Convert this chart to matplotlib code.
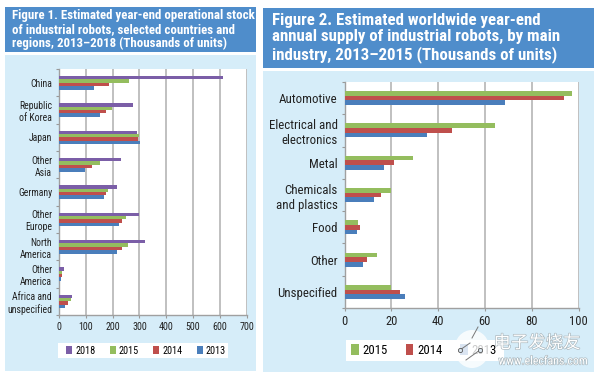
import matplotlib
matplotlib.use("Agg")
import matplotlib.pyplot as plt
from matplotlib.patches import Rectangle, Ellipse
from matplotlib.lines import Line2D
from matplotlib import font_manager as fm
import matplotlib.patheffects as pe
import numpy as np
import logging
logging.getLogger('matplotlib.font_manager').setLevel(logging.ERROR)

_available = {f.name for f in fm.fontManager.ttflist}
_pick = next((n for n in ['Roboto Condensed', 'Arimo Narrow', 'Archivo Narrow', 'Asap Condensed', 'Liberation Sans']
              if n in _available), 'DejaVu Sans')
plt.rcParams['font.family'] = [_pick, 'DejaVu Sans']

W, H = 600, 377

# Figure 1
regions = ["China", "Republic\nof Korea", "Japan", "Other\nAsia", "Germany",
           "Other\nEurope", "North\nAmerica", "Other\nAmerica", "Africa and\nunspecified"]
stock_2018 = [613, 277, 290, 230, 215, 300, 322, 19, 47]
stock_2015 = [262, 199, 297, 152, 182, 249, 257, 12, 45]
stock_2014 = [188, 175, 295, 122, 175, 234, 235, 11, 35]
stock_2013 = [132, 154, 302, 96, 167, 224, 215, 9, 24]
xticks_1 = [0, 100, 200, 300, 400, 500, 600, 700]

# Figure 2
industries = ["Automotive", "Electrical and\nelectronics", "Metal", "Chemicals\nand plastics",
              "Food", "Other", "Unspecified"]
supply_2015 = [97.4, 64.5, 29.2, 20, 5.8, 13.8, 20]
supply_2014 = [93.6, 45.8, 21, 15.8, 6.8, 9.8, 23.8]
supply_2013 = [68.8, 35.4, 16.8, 12.8, 5.3, 7.8, 25.8]
xticks_2 = [0, 20, 40, 60, 80, 100]

title_1 = "Figure 1. Estimated year-end operational stock\nof industrial robots, selected countries and\nregions, 2013–2018 (Thousands of units)"
title_2 = "Figure 2. Estimated worldwide year-end\nannual supply of industrial robots, by main\nindustry, 2013–2015 (Thousands of units)"

PURPLE, GREEN, RED, BLUE = "#7b5ea7", "#94bd5e", "#bf4f4c", "#4a7ebb"
HEADER, PANEL = "#4f8dcb", "#d6edf9"


def fig_rect(fig, x0, y0, x1, y1, color, z=-5):
    fig.add_artist(Rectangle((x0 / W, 1 - y1 / H), (x1 - x0) / W, (y1 - y0) / H,
                             transform=fig.transFigure, color=color, lw=0, zorder=z))


def make_panel(fig, box, cats, series, xticks, xmax, bar_h, fs_cat, ls_cat, fs_tick,
               leg_box, leg_dx, leg_fs, cspace):
    x0, y0, x1, y1 = box
    ax = fig.add_axes([x0 / W, 1 - y1 / H, (x1 - x0) / W, (y1 - y0) / H])
    ax.set_facecolor("white")
    n = len(cats)
    m = len(series)
    ypos = np.arange(n)
    handles = []
    for i, (label, vals, col) in enumerate(series):
        h = ax.barh(ypos + (i - (m - 1) / 2) * bar_h, vals, height=bar_h, color=col,
                    label=label, zorder=3, lw=0)
        handles.append(h)
    ax.set_ylim(n - 0.5, -0.5)
    ax.set_xlim(0, xmax)
    ax.set_xticks(xticks)
    ax.set_xticklabels([str(t) for t in xticks], fontsize=fs_tick, color="#222222")
    ax.set_yticks(np.arange(n + 1) - 0.5)
    ax.set_yticklabels([])
    ax.set_yticks(ypos, minor=True)
    ax.set_yticklabels(cats, minor=True, fontsize=fs_cat, color="#222222", linespacing=ls_cat, ha="right")
    ax.tick_params(axis="y", which="minor", length=0, pad=5)
    ax.tick_params(axis="y", which="major", length=2, width=0.8, color="#999999")
    ax.tick_params(axis="x", length=2, width=0.8, color="#999999", pad=3)
    ax.grid(axis="x", color="#b5b5b5", lw=1.2, zorder=1)
    ax.set_axisbelow(True)
    for s in ("top", "right"):
        ax.spines[s].set_visible(False)
    for s in ("left", "bottom"):
        ax.spines[s].set_color("#a0a0a0")
        ax.spines[s].set_linewidth(1.0)
    lx0, ly0, lx1, ly1 = leg_box
    ax.legend(handles=handles, ncol=m, loc="center",
              bbox_to_anchor=(((lx0 + lx1) / 2 + leg_dx) / W, 1 - (ly0 + ly1) / 2 / H),
              bbox_transform=fig.transFigure, frameon=False, fontsize=leg_fs,
              handlelength=0.6, handleheight=0.9, handletextpad=0.3,
              columnspacing=cspace, borderpad=0, borderaxespad=0)
    fig_rect(fig, lx0, ly0, lx1, ly1, "white")
    return ax


fig = plt.figure(figsize=(W / 100, H / 100), dpi=100, facecolor="white")

# Backgrounds
fig_rect(fig, 5, 7, 256, 52, HEADER)
fig_rect(fig, 5, 55, 256, 371, PANEL)
fig_rect(fig, 263, 8, 594, 68, HEADER)
fig_rect(fig, 263, 71, 594, 372, PANEL)

series_1 = [("2018", stock_2018, PURPLE), ("2015", stock_2015, GREEN),
            ("2014", stock_2014, RED), ("2013", stock_2013, BLUE)]
series_2 = [("2015", supply_2015, GREEN), ("2014", supply_2014, RED), ("2013", supply_2013, BLUE)]

ax1 = make_panel(fig, (59, 69, 246.5, 315), regions, series_1, xticks_1, 700, 0.125,
                 7, 1.25, 7.2, (58, 343, 228, 358), 3, 7.3, 1.4)
ax2 = make_panel(fig, (344.5, 82, 578.5, 308), industries, series_2, xticks_2, 100, 0.145,
                 9.3, 1.2, 9, (346, 340, 504, 361), -1, 9.2, 1.4)

fig.text(12 / W, 1 - 29.5 / H, title_1, color="white", fontsize=9.3, fontweight="bold",
         va="center", ha="left", linespacing=1.12)
fig.text(272 / W, 1 - 38 / H, title_2, color="white", fontsize=12.2, fontweight="bold",
         va="center", ha="left", linespacing=1.12)

# Watermark
fig.add_artist(Ellipse((472 / W, 1 - 349 / H), 35 / W, 38 / H, transform=fig.transFigure,
                       color="white", alpha=0.8, lw=0, zorder=9))
for xs, ys in [((460, 470), (350, 343)), ((480, 466), (350, 360)), ((478, 472), (327, 338))]:
    fig.add_artist(Line2D([x / W for x in xs], [1 - y / H for y in ys], transform=fig.transFigure,
                          color="#777777", lw=0.7, zorder=10))
for xc in (460, 480):
    fig.add_artist(Line2D([xc / W], [1 - 350 / H], transform=fig.transFigure, marker="o", ms=3,
                          mfc="#dbe6ef", mec="#555555", mew=0.6, ls="none", zorder=10))
shadow = [pe.withStroke(linewidth=0.9, foreground="#a8b5bb")]
fig.text(537 / W, 1 - 343 / H, "电子发烧友", color="white", fontsize=12.5, ha="center", va="center",
         family=["Noto Sans CJK SC", "DejaVu Sans"], zorder=10, path_effects=shadow)
fig.text(543 / W, 1 - 361 / H, "www.elecfans.com", color="white", fontsize=8.5, ha="center", va="center",
         zorder=10, path_effects=shadow)

fig.savefig("out.png", dpi=100, facecolor="white")
